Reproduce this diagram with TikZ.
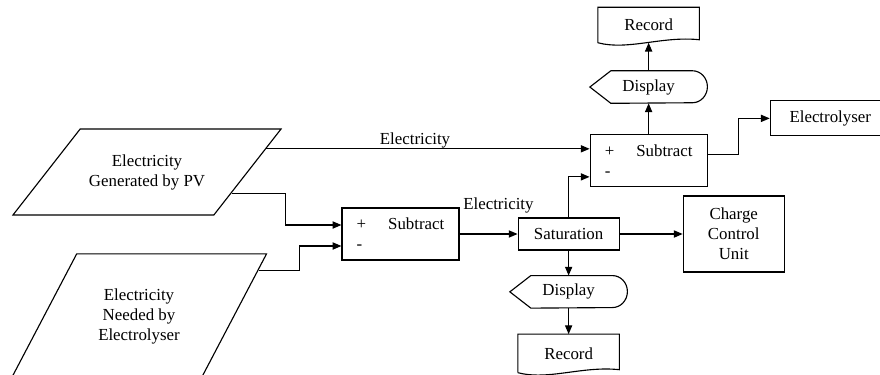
\documentclass[tikz,border=0pt]{standalone}
\usepackage{fontspec}
\setmainfont{Liberation Serif}
\usepackage{tikz}
\usetikzlibrary{arrows.meta, positioning, shapes.geometric}

% outline of a display symbol round a node
\newcommand{\displayoutline}[1]{%
  \draw[line width=0.8pt] ([xshift=0.525cm]#1.north west) -- ([xshift=-0.375cm]#1.north east)
    arc[start angle=90, end angle=-90, x radius=0.375cm, y radius=0.4cm]
    -- ([xshift=0.525cm]#1.south west) -- (#1.west) -- cycle;}
% outline of a record (document) symbol round a node
\newcommand{\recordoutline}[1]{%
  \draw[line width=0.8pt] (#1.south west) -- (#1.north west) -- (#1.north east)
    -- ([yshift=0.075cm]#1.south east)
    .. controls ([xshift=-0.925cm,yshift=0.175cm]#1.south east) and ([xshift=0.75cm,yshift=-0.2cm]#1.south west) .. (#1.south west);}

\begin{document}
\begin{tikzpicture}[
    font=\fontsize{12}{14.2}\selectfont,
    block/.style={rectangle, draw, line width=0.8pt, align=center},
    subbox/.style={block, minimum width=2.925cm, minimum height=1.3cm, align=left},
    datain/.style={trapezium, draw, line width=0.8pt, align=center, trapezium stretches body},
    display/.style={rectangle, minimum width=2.925cm, minimum height=0.8cm},
    record/.style={rectangle, minimum width=2.525cm},
    arrow/.style={-{Triangle[length=2.2mm, width=1.8mm]}, line width=0.8pt}
    ]
    \useasboundingbox (0,0) rectangle (22,-9.35);

    % inputs
    \node[datain, trapezium left angle=52, trapezium right angle=128,
          inner ysep=18pt, minimum width=6.7cm] (pv) at (3.675,-4.3) {Electricity\\Generated by PV};
    \node[datain, trapezium left angle=62.3, trapezium right angle=117.7,
          inner ysep=24.5pt, minimum width=6.375cm] (need) at (3.475,-7.9) {Electricity\\Needed by\\Electrolyser};

    % lower chain
    \node[subbox] (sub1) at (10.0125,-5.85) {+\hspace{0.55cm}Subtract\\-};
    \node[block, minimum width=2.525cm, minimum height=0.8cm, right=1.45cm of sub1] (sat) {Saturation};
    \node[block, minimum width=2.525cm, minimum height=1.9cm, right=1.575cm of sat] (ccu) {Charge\\Control\\Unit};
    \node[display, below=0.625cm of sat] (disp2) {Display};
    \node[record, minimum height=0.95cm, below=0.65cm of disp2] (rec2) {Record};

    % upper chain
    \node[subbox, above=0.75cm of sat, xshift=2cm] (sub2) {+\hspace{0.55cm}Subtract\\-};
    \node[display, above=0.775cm of sub2] (disp1) {Display};
    \node[record, minimum height=0.875cm, above=0.7cm of disp1] (rec1) {Record};
    \node[block, minimum width=3cm, minimum height=0.875cm, right=1.55cm of sub2, yshift=1.0625cm] (elly) {Electrolyser};

    \displayoutline{disp1}
    \displayoutline{disp2}
    \recordoutline{rec1}
    \recordoutline{rec2}

    % inlets of the subtract boxes
    \coordinate (plus1) at ([yshift=0.225cm]sub1.west);
    \coordinate (minus1) at ([yshift=-0.3cm]sub1.west);
    \coordinate (minus2) at ([yshift=-0.4cm]sub2.west);

    % connections
    \draw[arrow] (pv.11) -- node[pos=0.46, above, inner sep=0pt] {Electricity} (pv.11 -| sub2.west);
    \draw[arrow] (pv.-14) -| ([xshift=-1.4cm]plus1) -- (plus1);
    \draw[arrow] (need.21) -| ([xshift=-1.05cm]minus1) -- (minus1);
    \draw[arrow] (sub1) -- node[pos=0.67, above=0.5cm, inner sep=0pt] {Electricity} (sat);
    \draw[arrow] (sat) -- (ccu);
    \draw[arrow] (sat.north) |- (minus2);
    \draw[arrow] (sat) -- (disp2);
    \draw[arrow] (disp2) -- (rec2);
    \draw[arrow] (sub2) -- (disp1);
    \draw[arrow] (disp1) -- (rec1);
    \draw[arrow] ([yshift=0.15cm]sub2.east) -- ++(0.775cm,0) |- (elly);

\end{tikzpicture}
\end{document}
